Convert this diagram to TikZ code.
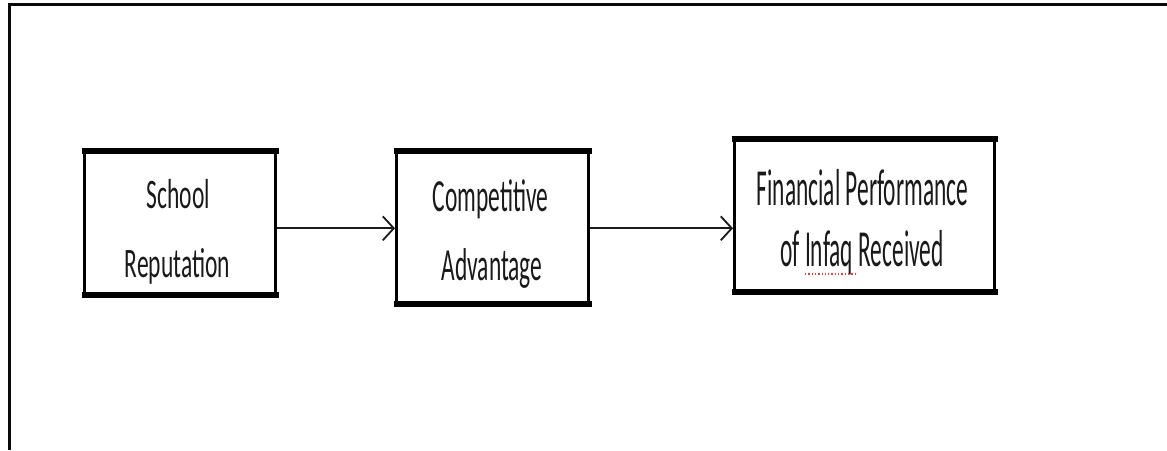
\documentclass[tikz,border=0pt]{standalone}
\usepackage{fontspec}
\usetikzlibrary{arrows.meta}
\newfontfamily\lblfonta[FakeStretch=0.56]{Carlito}
\newfontfamily\lblfontb[FakeStretch=0.51]{Carlito}
\newfontfamily\lblfontc[FakeStretch=0.45]{Carlito}
\definecolor{ink}{HTML}{1A1A1A}
\definecolor{frameink}{HTML}{0A0A0A}
\tikzset{
  box/.style={draw=black, line width=3pt, rectangle, inner sep=0pt, fill=none},
  boxedge/.style={draw=black, line width=6pt, line cap=butt},
  lbl/.style={anchor=base, inner sep=0pt, text=ink},
  lbla/.style={lbl, font={\lblfonta\fontsize{42}{50}\selectfont}},
  lblb/.style={lbl, font={\lblfontb\fontsize{46}{50}\selectfont}},
  lblc/.style={lbl, font={\lblfontc\fontsize{52}{56}\selectfont}},
  arr/.style={draw=ink, line width=2pt, -{Straight Barb[length=11pt,width=24pt,line width=1.8pt]}},
  frameline/.style={draw=frameink, line width=3pt, line cap=butt},
  spell/.style={draw=red!80, line width=1.3pt, dotted}
}
\begin{document}
\begin{tikzpicture}[x=1pt,y=-1pt]
\useasboundingbox (0,0) rectangle (1167,450);
% frame
\coordinate (fc) at (9.5,4.5);
\coordinate (fr) at (1167,4.5);
\coordinate (fb) at (9.5,450);
\draw[frameline] (fr) -- ([xshift=-1.5pt]fc) ;
\draw[frameline] ([yshift=1.5pt]fc) -- (fb);
% boxes
\node[box, minimum width=191pt, minimum height=141pt] (b1) at (180,222.5) {};
\node[box, minimum width=192pt, minimum height=150pt] (b2) at (492.5,227) {};
\node[box, minimum width=260pt, minimum height=150pt] (b3) at (864.5,215) {};
\foreach \b in {b1,b2,b3}{
  \draw[boxedge] ([xshift=-1.5pt]\b.north west) -- ([xshift=1.5pt]\b.north east);
  \draw[boxedge] ([xshift=-1.5pt]\b.south west) -- ([xshift=1.5pt]\b.south east);
}
% texts
\node[lbla] (t11) at (178.5,208.3) {School};
\node[lbla] (t12) at (177.5,277.3) {Reputation};
\node[lblb] (t21) at (490.5,211.7) {Competitive};
\node[lblb] (t22) at (492,280) {Advantage};
\node[lblc] (t31) at (862.5,205) {Financial Performance};
\node[lblc] (t32) at (862,266.7) {of Infaq Received};
\draw[spell] (805,274) -- (855,274);
% arrows
\draw[arr] ([yshift=-5.8pt]b1.east) -- ([yshift=-1.3pt]b2.west);
\draw[arr] ([yshift=-1.3pt]b2.east) -- ([yshift=-13.3pt]b3.west);
\end{tikzpicture}
\end{document}
